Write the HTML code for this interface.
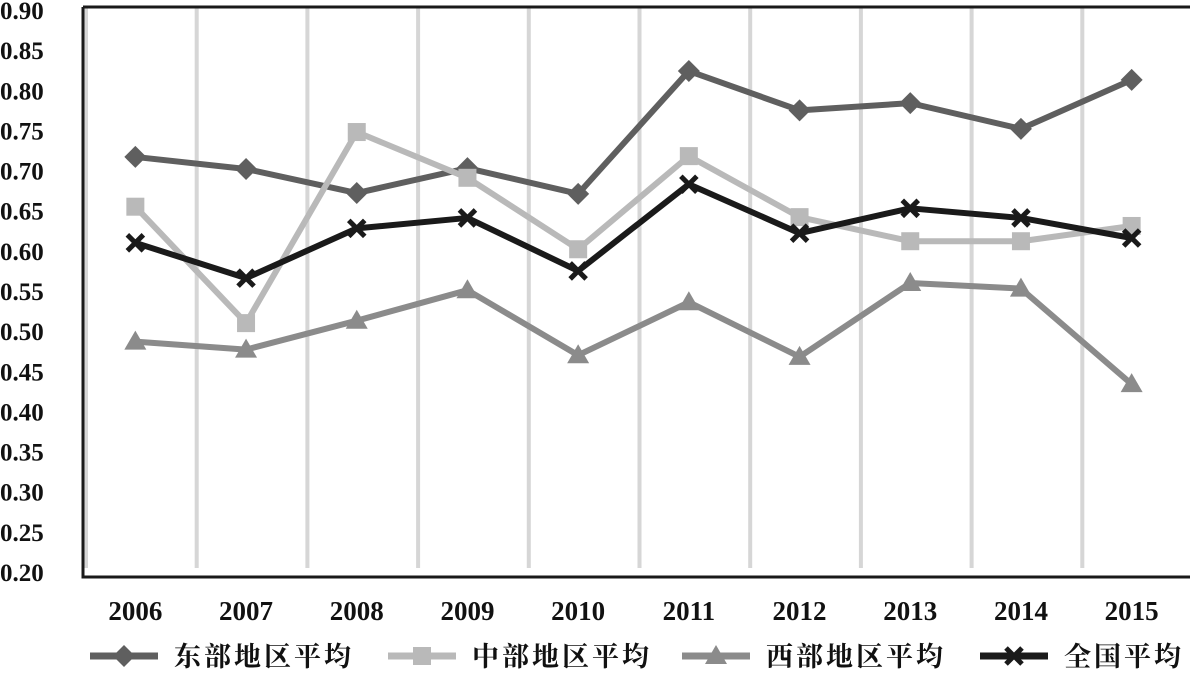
<!DOCTYPE html>
<html><head><meta charset="utf-8"><style>
body{margin:0;background:#fff;width:1191px;height:672px;overflow:hidden}
svg text{font-family:"Liberation Serif","Noto Serif CJK SC",serif;font-weight:bold;fill:#111}
</style></head><body>
<svg id="chart" width="1191" height="672" viewBox="0 0 1191 672" xmlns="http://www.w3.org/2000/svg"></svg>
<script>
const categories=["2006","2007","2008","2009","2010","2011","2012","2013","2014","2015"];
const eastValues=[0.717,0.702,0.672,0.703,0.671,0.824,0.775,0.784,0.752,0.813];
const centralValues=[0.655,0.510,0.748,0.691,0.602,0.718,0.642,0.612,0.612,0.631];
const westValues=[0.487,0.477,0.513,0.551,0.470,0.536,0.468,0.560,0.553,0.434];
const nationalValues=[0.610,0.566,0.628,0.641,0.575,0.683,0.622,0.653,0.641,0.616];
const yTicks=[0.20,0.25,0.30,0.35,0.40,0.45,0.50,0.55,0.60,0.65,0.70,0.75,0.80,0.85,0.90];
const seriesNames=["东部地区平均","中部地区平均","西部地区平均","全国平均"];

const svg=document.getElementById('chart');
const NS="http://www.w3.org/2000/svg";
const L=83,R=1190,T=7,B=577;
const yMin=0.2,yMax=0.9,yTop=10,yBot=572;
const band=(R-L)/categories.length;
function xPos(i){return L+band*(i+0.5)-3;}
function yPos(v){return yBot-(v-yMin)/(yMax-yMin)*(yBot-yTop);}
function mk(tag,attrs,parent){const e=document.createElementNS(NS,tag);for(const k in attrs)e.setAttribute(k,attrs[k]);(parent||svg).appendChild(e);return e;}

// gridlines
for(let i=0;i<=categories.length-1;i++){
  const gx=L+3+band*i;
  const g=mk('line',{x1:gx,x2:gx,y1:T,y2:568,stroke:'#d6d6d6','stroke-width':4});
  
  
}
// frame
const fr=mk('path',{d:`M${L} ${T} H${R} M${L} ${T} V${B} H${R}`,stroke:'#1a1a1a','stroke-width':3,fill:'none'});


// y ticks
yTicks.forEach(v=>{
  const t=mk('text',{x:0,y:yPos(v)+9,'font-size':25});
  t.textContent=v.toFixed(2);
  
  
});
categories.forEach((c,i)=>{
  const t=mk('text',{x:xPos(i),y:620,'font-size':27,'text-anchor':'middle'});
  t.textContent=c;
  
  
});
function marker(type,x,y,color,g){
  if(type==='diamond')return mk('polygon',{points:`${x},${y-11} ${x+11},${y} ${x},${y+11} ${x-11},${y}`,fill:color},g);
  if(type==='square')return mk('rect',{x:x-9,y:y-9,width:18,height:18,fill:color},g);
  if(type==='triangle')return mk('polygon',{points:`${x},${y-11} ${x+11},${y+8} ${x-11},${y+8}`,fill:color},g);
  const p=mk('path',{d:`M${x-8} ${y-8}L${x+8} ${y+8}M${x+8} ${y-8}L${x-8} ${y+8}`,stroke:color,'stroke-width':5},g);return p;
}
const series=[[eastValues,'#5f5f5f','diamond','east'],[centralValues,'#b9b9b9','square','central'],[westValues,'#8b8b8b','triangle','west'],[nationalValues,'#1a1a1a','x','national']];
series.forEach(([vals,color,type,key])=>{
  const g=mk('g',{});
  
  
  const ln=mk('polyline',{points:vals.map((v,i)=>xPos(i)+','+yPos(v)).join(' '),fill:'none',stroke:color,'stroke-width':6,'stroke-linejoin':'round'},g);
  
  
  vals.forEach((v,i)=>{
    const m=marker(type,xPos(i),yPos(v),color,g);
    
    
  });
});
// legend
const legX=[90,388,682,980];
series.forEach(([vals,color,type,key],i)=>{
  const g=mk('g',{});
  
  
  const x0=legX[i];
  mk('line',{x1:x0,x2:x0+68,y1:656,y2:656,stroke:color,'stroke-width':7},g);
  marker(type,x0+34,656,color,g);
  const t=mk('text',{x:x0+84,y:666,'font-size':27,'letter-spacing':'3'},g);
  t.textContent=seriesNames[i];
});
</script>
</body></html>
